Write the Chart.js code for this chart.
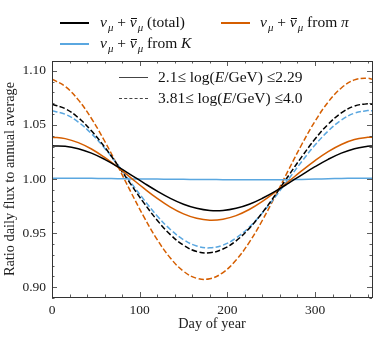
<!DOCTYPE html>
<html>
<head>
<meta charset="utf-8">
<script src="https://cdn.jsdelivr.net/npm/chart.js@4.4.1/dist/chart.umd.min.js"></script>
<style>
  html, body { margin: 0; padding: 0; background: #fff; }
  #wrap { position: relative; width: 377px; height: 338px; }
  #c { position: absolute; left: 0; top: 0; }
  .lg { position: absolute; font-family: "Liberation Serif", serif; font-size: 15.5px; color: #111; white-space: nowrap; line-height: 18px; }
  .sw { position: absolute; height: 0; }
  .m { font-style: italic; }
  .bar { position: relative; font-style: italic; }
  .bar::before { content: ''; position: absolute; left: 1px; right: 0; top: 5px; border-top: 1px solid #111; }
  sub { font-size: 70%; vertical-align: -4px; line-height: 0; margin-left: 1px; }
</style>
</head>
<body>
<div id="wrap">
  <canvas id="c" width="377" height="338"></canvas>
  <!-- top legend -->
  <div class="sw" style="left:60px; top:22px; width:29px; border-top:2px solid #000;"></div>
  <div class="lg" style="left:100px; top:13px;"><span class="m">ν</span><sub class="m">μ</sub> + <span class="bar">ν</span><sub class="m">μ</sub> (total)</div>
  <div class="sw" style="left:221px; top:22px; width:29px; border-top:2px solid #d55e00;"></div>
  <div class="lg" style="left:260px; top:13px;"><span class="m">ν</span><sub class="m">μ</sub> + <span class="bar">ν</span><sub class="m">μ</sub> from <span class="m">π</span></div>
  <div class="sw" style="left:60px; top:43px; width:29px; border-top:2px solid #5aa7e0;"></div>
  <div class="lg" style="left:100px; top:34px;"><span class="m">ν</span><sub class="m">μ</sub> + <span class="bar">ν</span><sub class="m">μ</sub> from <span class="m">K</span></div>
  <!-- inner legend -->
  <div class="sw" style="left:119px; top:77px; width:29px; border-top:1.5px solid #444;"></div>
  <div class="lg" style="left:158px; top:68px;">2.1≤ log(<span class="m">E</span>/GeV) ≤2.29</div>
  <div class="sw" style="left:119px; top:98px; width:29px; border-top:1.5px dashed #444;"></div>
  <div class="lg" style="left:158px; top:89px;">3.81≤ log(<span class="m">E</span>/GeV) ≤4.0</div>
</div>
<script>
const days = [0,15,30,45,60,75,90,105,120,135,150,165,180,195,210,225,240,255,270,285,300,315,330,345,360,365];

const totalLow  = [1.0306,1.0303,1.0280,1.0239,1.0182,1.0114,1.0039,0.9962,0.9888,0.9821,0.9767,0.9729,0.9709,0.9709,0.9729,0.9767,0.9822,0.9888,0.9962,1.0039,1.0114,1.0182,1.0239,1.0280,1.0303,1.0306];
const piLow     = [1.0386,1.0373,1.0336,1.0277,1.0199,1.0109,1.0011,0.9913,0.9821,0.9741,0.9678,0.9637,0.9620,0.9629,0.9662,0.9718,0.9793,0.9882,0.9978,1.0077,1.0170,1.0253,1.0319,1.0364,1.0385,1.0386];
const kLow      = [1.0008,1.0008,1.0007,1.0006,1.0005,1.0003,1.0001,1.0000,0.9999,0.9998,0.9997,0.9996,0.9995,0.9994,0.9994,0.9993,0.9993,0.9993,0.9994,0.9996,0.9999,1.0002,1.0005,1.0007,1.0008,1.0008];
const totalHigh = [1.0690,1.0650,1.0566,1.0445,1.0296,1.0127,0.9950,0.9777,0.9619,0.9486,0.9388,0.9331,0.9319,0.9353,0.9429,0.9544,0.9690,0.9856,1.0033,1.0207,1.0369,1.0506,1.0610,1.0674,1.0694,1.0690];
const kHigh     = [1.0630,1.0598,1.0526,1.0419,1.0285,1.0131,0.9968,0.9807,0.9659,0.9534,0.9439,0.9381,0.9364,0.9389,0.9455,0.9556,0.9687,0.9839,1.0001,1.0163,1.0314,1.0443,1.0544,1.0608,1.0632,1.0630];
const piHigh    = [1.0922,1.0855,1.0731,1.0559,1.0351,1.0119,0.9879,0.9648,0.9440,0.9270,0.9148,0.9083,0.9079,0.9136,0.9251,0.9415,0.9619,0.9848,1.0087,1.0321,1.0533,1.0711,1.0841,1.0916,1.0931,1.0922];

const xMajor = [0,100,200,300];
const yMajor = [0.90,0.95,1.00,1.05,1.10];

const BLACK = '#000000', ORANGE = '#d55e00', BLUE = '#5aa7e0';
const DASH = [5.5, 2.4];

function pts(arr) { return days.map((d, i) => ({x: d, y: arr[i]})); }
function ds(label, arr, color, dashed) {
  return { label, data: pts(arr), borderColor: color, borderWidth: 1.5,
    borderDash: dashed ? DASH : [], pointRadius: 0, tension: 0.4, fill: false };
}

const tickPlugin = {
  id: 'ticksInward',
  afterDraw(chart) {
    const {ctx, chartArea: a, scales: {x, y}} = chart;
    ctx.save();
    ctx.strokeStyle = '#333';
    ctx.lineWidth = 0.8;
    ctx.beginPath();
    for (let v = 0; v <= 365; v += 20) {
      const px = Math.round(x.getPixelForValue(v)) + 0.5;
      const len = (v % 100 === 0) ? 5 : 2.5;
      ctx.moveTo(px, a.bottom); ctx.lineTo(px, a.bottom - len);
      ctx.moveTo(px, a.top); ctx.lineTo(px, a.top + len);
    }
    for (let k = 89; k <= 110; k++) {
      const v = k / 100;
      const py = Math.round(y.getPixelForValue(v)) + 0.5;
      const len = (k % 5 === 0) ? 5 : 2.5;
      ctx.moveTo(a.left, py); ctx.lineTo(a.left + len, py);
      ctx.moveTo(a.right, py); ctx.lineTo(a.right - len, py);
    }
    ctx.stroke();
    ctx.lineWidth = 1;
    ctx.strokeRect(Math.round(a.left) + 0.5, Math.round(a.top) + 0.5,
                   Math.round(a.right - a.left), Math.round(a.bottom - a.top));
    ctx.restore();
  }
};

const font = { family: '"Liberation Serif", serif', size: 13.5 };
const titleFont = { family: '"Liberation Serif", serif', size: 14.3 };

new Chart(document.getElementById('c'), {
  type: 'line',
  data: { datasets: [
    ds('total low', totalLow, BLACK, false),
    ds('pi low', piLow, ORANGE, false),
    ds('K low', kLow, BLUE, false),
    ds('total high', totalHigh, BLACK, true),
    ds('K high', kHigh, BLUE, true),
    ds('pi high', piHigh, ORANGE, true)
  ]},
  options: {
    responsive: false, animation: false,
    layout: { padding: { top: 61, right: 5, left: 0, bottom: 0 } },
    plugins: { legend: { display: false }, tooltip: { enabled: false } },
    scales: {
      x: {
        type: 'linear', min: 0, max: 365,
        afterBuildTicks: s => { s.ticks = xMajor.map(v => ({value: v})); },
        afterFit: s => { s.height = 41; },
        grid: { display: false, drawTicks: false },
        border: { display: false },
        ticks: { font, color: '#222', padding: 5, maxRotation: 0 },
        title: { display: true, text: 'Day of year', font: titleFont, color: '#222', padding: { top: 0, bottom: 5 } }
      },
      y: {
        type: 'linear', min: 0.891, max: 1.109,
        afterBuildTicks: s => { s.ticks = yMajor.map(v => ({value: v})); },
        afterFit: s => { s.width = 52; },
        grid: { display: false, drawTicks: false },
        border: { display: false },
        ticks: { font, color: '#222', padding: 6, callback: v => v.toFixed(2) },
        title: { display: true, text: 'Ratio daily flux to annual average', font: titleFont, color: '#222', padding: { top: 2, bottom: 0 } }
      }
    }
  },
  plugins: [tickPlugin]
});
</script>
</body>
</html>
